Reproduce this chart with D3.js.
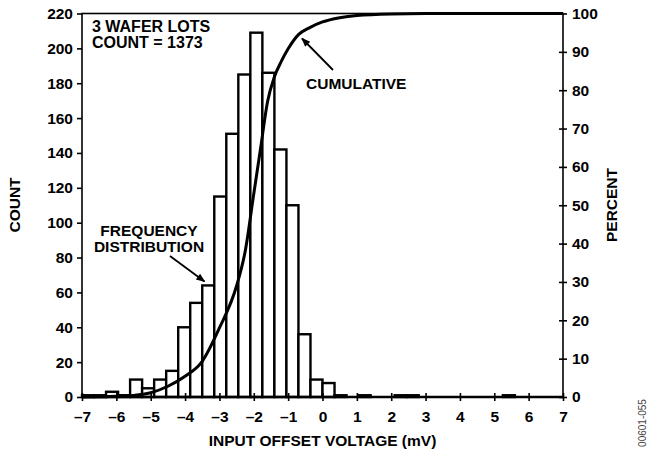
<!DOCTYPE html>
<html>
<head>
<meta charset="utf-8">
<script src="https://cdn.jsdelivr.net/npm/d3@7"></script>
<style>
body { margin: 0; background: #fff; }
svg text { font-family: "Liberation Sans", Arial, Helvetica, sans-serif; font-weight: bold; fill: #000; }
</style>
</head>
<body>
<div id="vis"></div>
<script>
// histogram bins (left edge, mV) and counts
var binStart = [-7, -6.65, -6.3, -5.95, -5.6, -5.25, -4.9, -4.55, -4.2, -3.85, -3.5, -3.15,
	-2.8, -2.45, -2.1, -1.75, -1.4, -1.05, -0.7, -0.35, 0, 0.35, 1.05, 2.1, 2.45, 5.25];
var counts = [1, 1, 3, 1, 10, 5, 10, 15, 40, 54, 64, 115,
	151, 185, 209, 186, 142, 110, 36, 10, 8, 1, 1, 1, 1, 1];
var binWidth = 0.35;

// cumulative curve
var cumVolts = [-7, -6, -5.5, -5, -4.5, -4, -3.5, -3, -2.5, -2.25, -2, -1.8, -1.6, -1.4,
	-1.2, -1, -0.7, -0.4, 0, 0.5, 1, 2, 3, 7];
var cumPercent = [0, 0.2, 0.4, 1.1, 2.8, 5.4, 9.3, 18, 29, 38, 53, 65, 77, 83.5,
	87.5, 90.8, 94.5, 96.2, 97.8, 98.9, 99.5, 99.9, 100, 100];

var voltTicks = [-7, -6, -5, -4, -3, -2, -1, 0, 1, 2, 3, 4, 5, 6, 7];
var countTicks = [0, 20, 40, 60, 80, 100, 120, 140, 160, 180, 200, 220];
var percentTicks = [0, 10, 20, 30, 40, 50, 60, 70, 80, 90, 100];

var margin = {top: 13.5, right: 89, bottom: 55, left: 82},
	width = 652 - margin.left - margin.right,
	height = 452 - margin.top - margin.bottom;

var fs = 15.5;

var x = d3.scaleLinear().domain([-7, 7]).range([0, width]);
var y = d3.scaleLinear().domain([0, 220]).range([height, 0]);
var yp = d3.scaleLinear().domain([0, 100]).range([height, 0]);

var svg = d3.select("#vis").append("svg")
	.attr("width", 652)
	.attr("height", 452);
var g = svg.append("g")
	.attr("transform", "translate(" + margin.left + "," + margin.top + ")");

var bins = binStart.map(function(b, i){ return {x0: b, n: counts[i]}; });

g.selectAll(".bar")
	.data(bins)
	.enter().append("rect")
		.attr("class", "bar")
		.attr("x", function(d){ return x(d.x0); })
		.attr("width", function(d){ return x(d.x0 + binWidth) - x(d.x0); })
		.attr("y", function(d){ return y(d.n); })
		.attr("height", function(d){ return height - y(d.n); })
		.attr("fill", "#fff")
		.attr("stroke", "#000")
		.attr("stroke-width", 2.4);

var cum = cumVolts.map(function(v, i){ return [v, cumPercent[i]]; });
var line = d3.line()
	.x(function(d){ return x(d[0]); })
	.y(function(d){ return yp(d[1]); })
	.curve(d3.curveMonotoneX);

g.append("path")
	.datum(cum)
	.attr("d", line)
	.attr("fill", "none")
	.attr("stroke", "#000")
	.attr("stroke-width", 3);

// frame
g.append("rect")
	.attr("width", width)
	.attr("height", height)
	.attr("fill", "none")
	.attr("stroke", "#000")
	.attr("stroke-width", 1.6);
g.append("line")
	.attr("x1", 0).attr("x2", width)
	.attr("y1", height).attr("y2", height)
	.attr("stroke", "#000")
	.attr("stroke-width", 2.4);

function styleAxis(sel){
	sel.select(".domain").remove();
	sel.selectAll(".tick line").attr("stroke-width", 1.6);
	sel.selectAll("text").attr("font-size", fs);
}

// x axis
var xa = g.append("g")
	.attr("transform", "translate(0," + height + ")")
	.call(d3.axisBottom(x).tickValues(voltTicks).tickSize(4).tickPadding(10)
		.tickFormat(function(d){ return d < 0 ? "\u2013" + Math.abs(d) : d; }))
	.call(styleAxis);
xa.selectAll(".tick line").attr("y1", -4);

// left axis
g.append("g")
	.call(d3.axisLeft(y).tickValues(countTicks).tickSize(5).tickPadding(4))
	.call(styleAxis);

// right axis
var ra = g.append("g")
	.attr("transform", "translate(" + width + ",0)")
	.call(d3.axisRight(yp).tickValues(percentTicks).tickSize(4).tickPadding(5))
	.call(styleAxis);
ra.selectAll(".tick line").attr("x1", -4);

// axis titles
svg.append("text")
	.attr("transform", "translate(" + (margin.left + width / 2) + ",446)")
	.attr("text-anchor", "middle")
	.attr("font-size", fs)
	.text("INPUT OFFSET VOLTAGE (mV)");
svg.append("text")
	.attr("transform", "translate(20,205) rotate(-90)")
	.attr("text-anchor", "middle")
	.attr("font-size", fs)
	.text("COUNT");
svg.append("text")
	.attr("transform", "translate(617,205) rotate(-90)")
	.attr("text-anchor", "middle")
	.attr("font-size", fs)
	.text("PERCENT");

// annotations
svg.append("text").attr("x", 92).attr("y", 31.5).attr("font-size", 16).text("3 WAFER LOTS");
svg.append("text").attr("x", 92).attr("y", 47.5).attr("font-size", 16).text("COUNT = 1373");
svg.append("text").attr("x", 306).attr("y", 89).attr("font-size", fs).text("CUMULATIVE");
svg.append("text").attr("x", 149).attr("y", 236).attr("text-anchor", "middle").attr("font-size", fs).text("FREQUENCY");
svg.append("text").attr("x", 149).attr("y", 252).attr("text-anchor", "middle").attr("font-size", fs).text("DISTRIBUTION");

svg.append("defs").append("marker")
	.attr("id", "head")
	.attr("viewBox", "0 0 10 10")
	.attr("refX", 9).attr("refY", 5)
	.attr("markerWidth", 12).attr("markerHeight", 9)
	.attr("markerUnits", "userSpaceOnUse")
	.attr("orient", "auto")
	.append("path").attr("d", "M0,1L10,5L0,9Z").attr("fill", "#000");

svg.append("line")
	.attr("x1", 333).attr("y1", 70).attr("x2", 302).attr("y2", 38.5)
	.attr("stroke", "#000").attr("stroke-width", 1.8)
	.attr("marker-end", "url(#head)");
svg.append("line")
	.attr("x1", 170).attr("y1", 256).attr("x2", 204.5).attr("y2", 281.5)
	.attr("stroke", "#000").attr("stroke-width", 1.8)
	.attr("marker-end", "url(#head)");

svg.append("text")
	.attr("transform", "translate(646,423) rotate(-90)")
	.attr("text-anchor", "middle")
	.attr("font-size", 10)
	.style("font-weight", "normal")
	.style("fill", "#444")
	.text("00601-055");
</script>
</body>
</html>
